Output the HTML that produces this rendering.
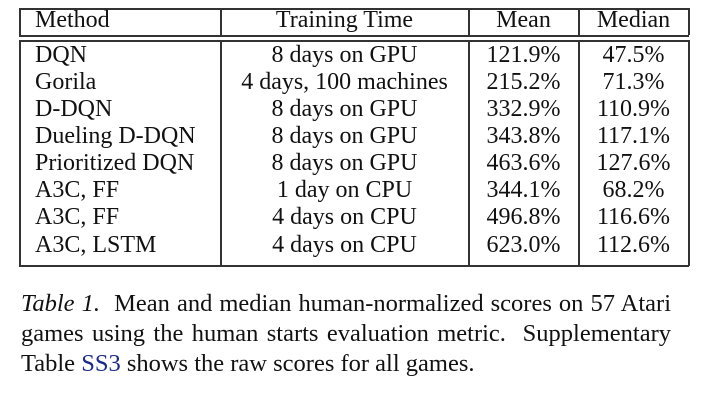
<!DOCTYPE html>
<html><head><style>
body{margin:0;width:722px;height:404px;background:#fff;position:relative;overflow:hidden;font-family:"Liberation Serif",serif;color:#111}
.l{position:absolute;background:#333}
.t{position:absolute;font-size:24px;line-height:28px;white-space:nowrap}
.c{text-align:center}
.cl{position:absolute;left:21px;width:650px;font-size:24.5px;line-height:30px;white-space:nowrap}
.j{text-align:justify;text-align-last:justify}
</style></head><body>
<div class="l" style="left:19px;top:8px;width:670px;height:1.5px"></div>
<div class="l" style="left:19px;top:35px;width:670px;height:1.5px"></div>
<div class="l" style="left:19px;top:40px;width:670px;height:1.5px"></div>
<div class="l" style="left:19px;top:265px;width:670px;height:1.5px"></div>
<div class="l" style="left:19px;top:8px;width:1.5px;height:27px"></div>
<div class="l" style="left:220px;top:8px;width:1.5px;height:27px"></div>
<div class="l" style="left:468px;top:8px;width:1.5px;height:27px"></div>
<div class="l" style="left:578px;top:8px;width:1.5px;height:27px"></div>
<div class="l" style="left:688px;top:8px;width:1.5px;height:27px"></div>
<div class="l" style="left:19px;top:40px;width:1.5px;height:226px"></div>
<div class="l" style="left:220px;top:40px;width:1.5px;height:226px"></div>
<div class="l" style="left:468px;top:40px;width:1.5px;height:226px"></div>
<div class="l" style="left:578px;top:40px;width:1.5px;height:226px"></div>
<div class="l" style="left:688px;top:40px;width:1.5px;height:226px"></div>
<div class="t" style="left:35px;top:6px">Method</div>
<div class="t c" style="left:221px;width:247px;top:6px">Training Time</div>
<div class="t c" style="left:469px;width:109px;top:6px">Mean</div>
<div class="t c" style="left:579px;width:109px;top:6px">Median</div>

<div class="t" style="left:35px;top:41px">DQN</div><div class="t c" style="left:221px;width:247px;top:41px">8 days on GPU</div><div class="t c" style="left:469px;width:109px;top:41px">121.9%</div><div class="t c" style="left:579px;width:109px;top:41px">47.5%</div>
<div class="t" style="left:35px;top:68px">Gorila</div><div class="t c" style="left:221px;width:247px;top:68px">4 days, 100 machines</div><div class="t c" style="left:469px;width:109px;top:68px">215.2%</div><div class="t c" style="left:579px;width:109px;top:68px">71.3%</div>
<div class="t" style="left:35px;top:95px">D-DQN</div><div class="t c" style="left:221px;width:247px;top:95px">8 days on GPU</div><div class="t c" style="left:469px;width:109px;top:95px">332.9%</div><div class="t c" style="left:579px;width:109px;top:95px">110.9%</div>
<div class="t" style="left:35px;top:122px">Dueling D-DQN</div><div class="t c" style="left:221px;width:247px;top:122px">8 days on GPU</div><div class="t c" style="left:469px;width:109px;top:122px">343.8%</div><div class="t c" style="left:579px;width:109px;top:122px">117.1%</div>
<div class="t" style="left:35px;top:149px">Prioritized DQN</div><div class="t c" style="left:221px;width:247px;top:149px">8 days on GPU</div><div class="t c" style="left:469px;width:109px;top:149px">463.6%</div><div class="t c" style="left:579px;width:109px;top:149px">127.6%</div>
<div class="t" style="left:35px;top:176px">A3C, FF</div><div class="t c" style="left:221px;width:247px;top:176px">1 day on CPU</div><div class="t c" style="left:469px;width:109px;top:176px">344.1%</div><div class="t c" style="left:579px;width:109px;top:176px">68.2%</div>
<div class="t" style="left:35px;top:203px">A3C, FF</div><div class="t c" style="left:221px;width:247px;top:203px">4 days on CPU</div><div class="t c" style="left:469px;width:109px;top:203px">496.8%</div><div class="t c" style="left:579px;width:109px;top:203px">116.6%</div>
<div class="t" style="left:35px;top:231px">A3C, LSTM</div><div class="t c" style="left:221px;width:247px;top:231px">4 days on CPU</div><div class="t c" style="left:469px;width:109px;top:231px">623.0%</div><div class="t c" style="left:579px;width:109px;top:231px">112.6%</div>

<div class="cl j" style="top:289px;white-space:normal"><i>Table 1.</i>&nbsp; Mean and median human-normalized scores on 57 Atari</div>
<div class="cl j" style="top:319px;white-space:normal">games using the human starts evaluation metric.&nbsp; Supplementary</div>
<div class="cl" style="top:349px">Table <span style="color:#1a2a8a">SS3</span> shows the raw scores for all games.</div>
</body></html>
